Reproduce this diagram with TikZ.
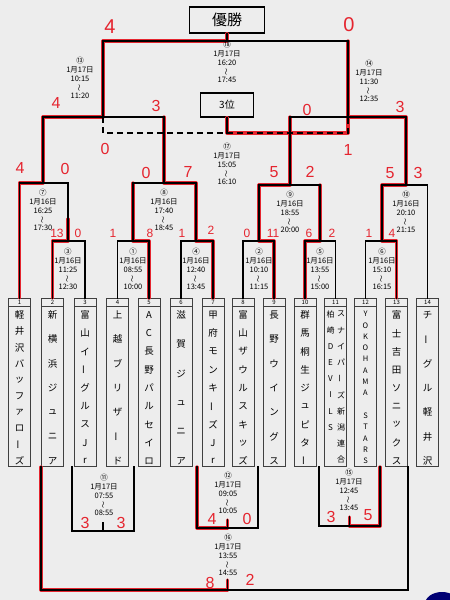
\documentclass[tikz,border=0pt]{standalone}
\usepackage{fontspec}
\usepackage{graphicx}
\setmainfont{Noto Sans CJK JP}
\newfontfamily\handfont{Liberation Sans}
\definecolor{pen}{HTML}{E5252F}
\definecolor{paper}{HTML}{EDEDED}
\newcommand\vb{\rotatebox[origin=c]{90}{ー}}
\newcommand\wv{\rotatebox[origin=c]{90}{\fontsize{7}{7}\selectfont 〜}}
\newcommand\tname[4]{\foreach \ch [count=\k] in {#4}{\node[tch] (#1c\k) at (#2,{315+(\k-1)*146/(#3-1)}) {\ch};}}
\begin{document}
\begin{tikzpicture}[x=1pt,y=-1pt,
  line/.style={line width=1.3pt, line cap=rect},
  pathred/.style={draw=pen, line width=3.2pt, line cap=round, line join=round},
  info/.style={font=\fontsize{7.5}{8.6}\selectfont, align=center, inner sep=0pt},
  tch/.style={font=\fontsize{9.5}{10}\selectfont, inner sep=0pt},
  tbox/.style={draw=black!75, line width=0.8pt, minimum width=22pt, minimum height=168pt, inner sep=0pt, outer sep=0pt},
  score/.style={font=\handfont\fontsize{16}{16}\selectfont, text=pen, inner sep=0pt},
  sscore/.style={font=\handfont\fontsize{12}{12}\selectfont, text=pen, inner sep=0pt},
  bscore/.style={font=\handfont\fontsize{20}{20}\selectfont, text=pen, inner sep=0pt}]
\fill[paper] (0,0) rectangle (450,600);
\useasboundingbox (0,0) rectangle (450,600);

% team boxes
\foreach \x [count=\i] in {19.5,52.5,85,117.5,149,181,213,243,274,305,335.5,365.5,396.5,427.5}{
  \node[tbox] (t\i) at (\x,382) {};
  \draw[black!75, line width=0.8pt] ([yshift=-8pt]t\i.north west) -- ([yshift=-8pt]t\i.north east);
  \node[font=\fontsize{6}{6}\selectfont, inner sep=0pt] (h\i) at (\x,302) {\i};
}
\tname{n1}{19.5}{10}{軽,井,沢,バ,ッ,フ,ァ,ロ,\vb,ズ}
\tname{n2}{52.5}{7}{新,横,浜,ジ,ュ,ニ,ア}
\tname{n3}{85}{9}{富,山,イ,\vb,グ,ル,ス,J,r}
\tname{n4}{117.5}{7}{上,越,ブ,リ,ザ,\vb,ド}
\tname{n5}{149}{9}{A,C,長,野,パ,ル,セ,イ,ロ}
\tname{n6}{181}{6}{滋,賀,ジ,ュ,ニ,ア}
\tname{n7}{213}{9}{甲,府,モ,ン,キ,\vb,ズ,J,r}
\tname{n8}{243}{9}{富,山,ザ,ウ,ル,ス,キ,ッ,ズ}
\tname{n9}{274}{7}{長,野,ウ,イ,ン,グ,ス}
\tname{n10}{305}{9}{群,馬,桐,生,ジ,ュ,ピ,タ,\vb}
\foreach \ch [count=\k] in {ス,ナ,イ,パ,\vb,ズ,新,潟,連,合}{
  \node[tch, font=\fontsize{8}{8}\selectfont] (n11r\k) at (341,{314+(\k-1)*16.2}) {\ch};}
\foreach \ch [count=\k] in {柏,崎,D,E,V,I,L,S}{
  \node[tch, font=\fontsize{8}{8}\selectfont] (n11l\k) at (330.5,{314+(\k-1)*16.2}) {\ch};}
\foreach \ch/\p [count=\k] in {Y/0,O/1,K/2,O/3,H/4,A/5,M/6,A/7,S/9,T/10,A/11,R/12,S/13}{
  \node[tch, font=\fontsize{7.5}{8}\selectfont] (n12c\k) at (365.5,{314+\p*11.3}) {\ch};}
\tname{n13}{396.5}{9}{富,士,吉,田,ソ,ニ,ッ,ク,ス}
\tname{n14}{427.5}{7}{チ,\vb,グ,ル,軽,井,沢}

% title boxes
\node[draw, line width=1.3pt, minimum width=75pt, minimum height=26pt, inner sep=0pt, font=\fontsize{15}{15}\selectfont] (win) at (227,20) {優勝};
\node[draw, line width=1.3pt, minimum width=53pt, minimum height=24pt, inner sep=0pt, font=\fontsize{10}{10}\selectfont] (third) at (227,105) {3位};

% match coordinates
\coordinate (m3) at (68,241);  \coordinate (m1) at (133,241); \coordinate (m4) at (196,241);
\coordinate (m2) at (259,241); \coordinate (m5) at (320,241); \coordinate (m6) at (382,241);
\coordinate (m7) at (43,183);  \coordinate (m8) at (164,183);
\coordinate (m9) at (290,185); \coordinate (m10) at (406,185);
\coordinate (m13) at (103,117); \coordinate (m14) at (348,117);
\coordinate (m18) at (227,41);
\coordinate (d13) at (103,133);
\coordinate (b11L) at (72,467); \coordinate (b11R) at (134,467); \coordinate (m11) at (103,531); \coordinate (s11) at (103,523);
\coordinate (b12L) at (197,467); \coordinate (b12R) at (258,467); \coordinate (m12) at (227.5,528); \coordinate (s12) at (227.5,520);
\coordinate (b15L) at (319,467); \coordinate (b15R) at (380,467); \coordinate (m15) at (349.5,526); \coordinate (s15) at (349.5,517);
\coordinate (b16L) at (41,467); \coordinate (b16R) at (408,467); \coordinate (m16) at (227.5,590); \coordinate (s16) at (227.5,580);

% red winner paths
\draw[pathred] (t1.north) |- (m7) |- (m13) |- (m18) -- (win.south);
\draw[pathred] (t2.north) |- (m3) -- ([yshift=22pt]m3);
\draw[pathred] (t5.north) |- (m1) -- (m1 |- m8);
\draw[pathred] (t7.north) |- (m4) |- (m8) -- (m8 |- m13);
\draw[pathred] (t9.north) |- (m2) |- (m9) -- (m9 |- m14);
\draw[pathred] (t10.north) |- (m5) -- (m5 |- m9);
\draw[pathred] (t13.north) |- (m6) |- (m10) |- (m14) -- (m14 |- m18);
\draw[pathred] (third.south) -- (third.south |- d13) -| (m14);
\draw[pathred] (b12L) |- (m12) -- (s12);
\draw[pathred] (b15R) |- (m15) -- (s15);
\draw[pathred] (b16L) |- (m16) -- (s16);

% black bracket lines
\draw[line] (t2.north) |- (m3) -| (t3.north);
\draw[line] (t4.north) |- (m1) -| (t5.north);
\draw[line] (t6.north) |- (m4) -| (t7.north);
\draw[line] (t8.north) |- (m2) -| (t9.north);
\draw[line] (t10.north) |- (m5) -| (t11.north);
\draw[line] (t12.north) |- (m6) -| (t13.north);
\draw[line] (t1.north) |- (m7) -| (m3);
\draw[line] (m1) |- (m8) -| (m4);
\draw[line] (m2) |- (m9) -| (m5);
\draw[line] (m6) |- (m10) -| (t14.north);
\draw[line] (m7) |- (m13) -| (m8);
\draw[line] (m9) |- (m14) -| (m10);
\draw[line] (m13) |- (m18) -| (m14);
\draw[line] (m18) -- (win.south);
\draw[line, line cap=butt, dash pattern=on 6pt off 4pt] (m13) -- (d13) -| (m14);
\draw[line] (third.south) -- (third.south |- d13);
\draw[line] (b11L) |- (m11) -| (b11R); \draw[line] (m11) -- (s11);
\draw[line] (b12L) |- (m12) -| (b12R); \draw[line] (m12) -- (s12);
\draw[line] (b15L) |- (m15) -| (b15R); \draw[line] (m15) -- (s15);
\draw[line] (b16L) |- (m16) -| (b16R); \draw[line] (m16) -- (s16);

% match info
\node[info] (i18) at (227,62) {⑱\\1月17日\\16:20\\\wv\\17:45};
\node[info] (i17) at (227,164) {⑰\\1月17日\\15:05\\\wv\\16:10};
\node[info] (i13) at (80,78) {⑬\\1月17日\\10:15\\\wv\\11:20};
\node[info] (i14) at (369,81) {⑭\\1月17日\\11:30\\\wv\\12:35};
\node[info] (i7) at (43,210) {⑦\\1月16日\\16:25\\\wv\\17:30};
\node[info] (i8) at (164,210) {⑧\\1月16日\\17:40\\\wv\\18:45};
\node[info] (i9) at (290,212) {⑨\\1月16日\\18:55\\\wv\\20:00};
\node[info] (i10) at (406,212) {⑩\\1月16日\\20:10\\\wv\\21:15};
\node[info] (i3) at (68,269) {③\\1月16日\\11:25\\\wv\\12:30};
\node[info] (i1) at (133,269) {①\\1月16日\\08:55\\\wv\\10:00};
\node[info] (i4) at (196,269) {④\\1月16日\\12:40\\\wv\\13:45};
\node[info] (i2) at (259,269) {②\\1月16日\\10:10\\\wv\\11:15};
\node[info] (i5) at (320,269) {⑤\\1月16日\\13:55\\\wv\\15:00};
\node[info] (i6) at (382,269) {⑥\\1月16日\\15:10\\\wv\\16:15};
\node[info] (i11) at (104,495) {⑪\\1月17日\\07:55\\\wv\\08:55};
\node[info] (i12) at (228,493) {⑫\\1月17日\\09:05\\\wv\\10:05};
\node[info] (i15) at (349,490) {⑮\\1月17日\\12:45\\\wv\\13:45};
\node[info] (i16) at (228,555) {⑯\\1月17日\\13:55\\\wv\\14:55};

% hand-written scores
\node[bscore] (s18a) at (110,27) {4};   \node[bscore] (s18b) at (349,25) {0};
\node[score] (s13a) at (56,103) {4};    \node[score] (s13b) at (156,106) {3};
\node[score] (s14a) at (307,110) {0};   \node[score] (s14b) at (400,107) {3};
\node[score] (s17a) at (105,149) {0};   \node[score] (s17b) at (348,150) {1};
\node[score] (s7a) at (20,168) {4};     \node[score] (s7b) at (65,169) {0};
\node[score] (s8a) at (146,173) {0};    \node[score] (s8b) at (188,172) {7};
\node[score] (s9a) at (274,172) {5};    \node[score] (s9b) at (310,172) {2};
\node[score] (s10a) at (390,173) {5};   \node[score] (s10b) at (418,173) {3};
\node[sscore] (s3a) at (57,233) {13};   \node[sscore] (s3b) at (78,233) {0};
\node[sscore] (s1a) at (113,233) {1};   \node[sscore] (s1b) at (150,233) {8};
\node[sscore] (s4a) at (182,233) {1};   \node[sscore] (s4b) at (211,230) {2};
\node[sscore] (s2a) at (247,233) {0};   \node[sscore] (s2b) at (273,233) {11};
\node[sscore] (s5a) at (309,233) {6};   \node[sscore] (s5b) at (332,233) {2};
\node[sscore] (s6a) at (369,233) {1};   \node[sscore] (s6b) at (392,233) {4};
\node[score] (s11a) at (85,523) {3};    \node[score] (s11b) at (121,523) {3};
\node[score] (s12a) at (212,519) {4};   \node[score] (s12b) at (247,519) {0};
\node[score] (s15a) at (331,517) {3};   \node[score] (s15b) at (368,515) {5};
\node[score] (s16a) at (210,583) {8};   \node[score] (s16b) at (250,580) {2};

% blue object at lower right corner
\begin{scope}
\clip (0,0) rectangle (450,600);
\fill[blue!45!black] (442,604) ellipse (17pt and 12pt);
\end{scope}
\end{tikzpicture}
\end{document}
